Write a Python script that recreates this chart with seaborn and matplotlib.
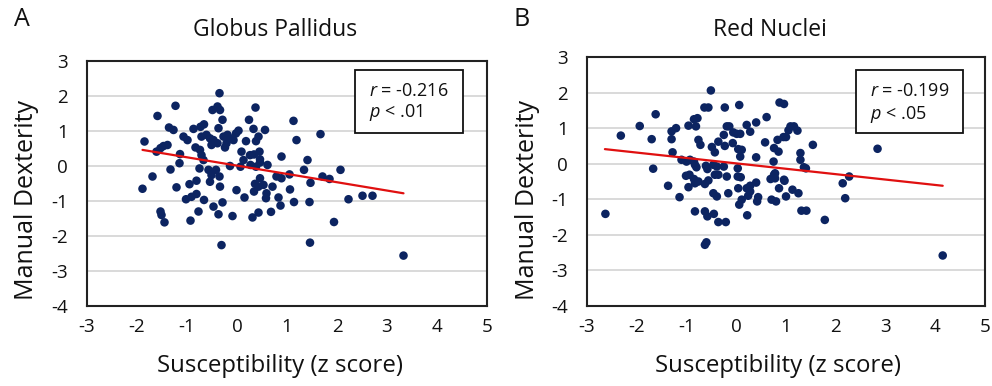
import numpy as np
import pandas as pd
import matplotlib
matplotlib.use('Agg')
import matplotlib.pyplot as plt
import seaborn as sns
from matplotlib.patches import Rectangle

# ---------------- data ----------------
gp_x = [-0.35, -1.23, -1.59, -0.49, -0.39, -0.34, 0.37, -0.29, 0.24, 1.13,
        -1.36, -1.27, -0.87, -0.73, -0.66, -0.37, 0.03, -0.02, 0.33, 0.56,
        0.43, 1.67, 1.19, -1.85, -1.07, -0.99, -0.71, -0.61, -0.54, -0.47,
        -0.27, -0.19, -0.14, -0.07, -0.21, 0.18, 0.38, -1.47, -1.39, -1.53,
        -0.83, -0.74, -0.51, -0.39, -0.24, 0.09, 0.26, 0.34, 0.45, -1.14,
        -1.61, -0.71, -0.67, 0.13, 0.46, 0.89, 1.41, -1.15, -0.14, 0.07,
        0.27, 0.38, 0.46, 0.61, -1.33, -0.75, -0.57, -0.42, 1.34, 2.07,
        -1.69, -0.51, -0.35, 0.79, 0.89, 1.05, 1.71, 1.85, -0.81, -0.54,
        0.46, 0.36, 0.43, 0.53, -1.89, -1.21, -0.95, -0.34, -0.01, 0.34,
        0.71, 1.06, 1.47, -0.81, -0.91, -1.02, -0.66, 0.15, 0.59, 0.58,
        0.83, 2.23, -1.53, -1.51, -1.45, -0.77, -0.93, -0.47, -0.29, -0.37,
        -0.09, 0.31, 0.43, 0.68, 0.87, 1.14, 1.45, 1.94, -0.31, 1.46,
        2.51, 2.71, 3.33]
gp_y = [2.08, 1.72, 1.43, 1.60, 1.70, 1.60, 1.67, 1.32, 1.32, 1.29,
        1.10, 1.03, 1.06, 1.12, 1.19, 1.08, 1.01, 0.93, 1.06, 1.03,
        0.84, 0.91, 0.74, 0.70, 0.84, 0.74, 0.84, 0.89, 0.79, 0.74,
        0.84, 0.89, 0.79, 0.74, 0.65, 0.71, 0.71, 0.57, 0.60, 0.51,
        0.53, 0.46, 0.60, 0.65, 0.53, 0.41, 0.31, 0.33, 0.41, 0.34,
        0.41, 0.31, 0.17, 0.17, 0.19, 0.27, 0.17, 0.08, 0.00, -0.02,
        0.03, -0.02, 0.10, 0.03, -0.10, -0.07, -0.11, -0.11, -0.11, -0.11,
        -0.30, -0.26, -0.30, -0.30, -0.35, -0.24, -0.30, -0.37, -0.42, -0.45,
        -0.35, -0.51, -0.59, -0.54, -0.65, -0.61, -0.52, -0.59, -0.69, -0.73,
        -0.59, -0.67, -0.48, -0.80, -0.88, -0.95, -0.97, -0.90, -0.78, -0.92,
        -0.90, -0.95, -1.30, -1.40, -1.61, -1.30, -1.56, -1.16, -1.04, -1.38,
        -1.43, -1.47, -1.33, -1.31, -1.13, -1.03, -1.03, -1.60, -2.26, -2.19,
        -0.85, -0.85, -2.56]
gp_line_x = [-1.89, 3.33]
gp_line_y = [0.46, -0.78]

rn_x = [-0.51, -0.64, -0.56, -0.23, 0.06, -1.62, -1.94, -2.32, -1.70, -1.30,
        -1.21, -1.30, -0.96, -0.85, -0.78, -0.81, -0.76, -0.72, -0.49, -0.43,
        -0.36, -0.25, -0.19, -0.14, -0.23, -0.06, 0.01, 0.08, -0.07, 0.04,
        0.11, 0.08, 0.21, 0.28, 0.40, 0.61, 0.58, 0.40, 0.76, 0.85,
        0.75, 0.83, 0.95, 1.00, 0.87, 0.96, 1.05, -1.28, -1.10, -1.00,
        -0.93, -0.85, -0.83, -0.80, -0.61, -0.58, -0.46, -0.39, -0.25, 0.03,
        -1.67, -1.01, -0.94, -0.85, -0.76, -0.83, -0.63, -0.56, -0.43, -0.36,
        -0.19, 0.03, 0.09, 0.28, 0.21, 0.40, 0.69, 0.76, 0.97, 0.86,
        -1.37, -0.96, -1.14, -0.46, -0.39, -0.16, 0.04, 0.28, 0.24, 0.11,
        0.06, 0.44, 0.42, 0.71, 0.80, 1.00, -0.83, -0.63, -0.58, -0.45,
        -0.36, -0.21, 0.22, -0.60, -0.63, -2.63, 1.09, 1.16, 1.23, 1.54,
        1.29, 1.29, 1.36, 1.40, 2.84, 0.78, 0.78, 0.96, 1.13, 1.25,
        2.27, 2.14, 2.19, 1.31, 1.41, 1.78, 4.15]
rn_y = [2.06, 1.58, 1.58, 1.58, 1.65, 1.39, 1.06, 0.79, 0.69, 0.91,
        1.00, 0.69, 1.07, 1.25, 1.28, 1.05, 0.67, 0.53, 0.47, 0.32,
        0.62, 0.81, 1.05, 1.05, 0.50, 0.88, 0.84, 0.84, 0.58, 0.41,
        0.39, 0.20, 1.09, 0.90, 1.16, 1.31, 0.60, 0.18, 0.44, 0.34,
        0.06, 0.67, 0.75, 0.75, 1.72, 1.68, 0.94, 0.32, 0.11, 0.06,
        0.11, 0.06, -0.03, -0.10, -0.06, -0.15, -0.03, -0.08, -0.08, -0.13,
        -0.14, -0.34, -0.31, -0.43, -0.50, -0.55, -0.57, -0.47, -0.31, -0.31,
        -0.36, -0.36, -0.38, -0.62, -0.69, -0.53, -0.43, -0.31, -0.48, -0.69,
        -0.62, -0.66, -0.94, -0.83, -0.92, -0.83, -0.69, -0.78, -0.90, -1.01,
        -1.15, -0.94, -1.06, -1.01, -1.06, -0.92, -1.34, -1.34, -1.48, -1.41,
        -1.64, -1.64, -1.45, -2.21, -2.28, -1.41, 1.05, 1.05, 0.93, 0.53,
        0.30, 0.11, -0.10, -0.13, 0.42, -0.27, -0.41, -0.45, -0.73, -0.83,
        -0.36, -0.55, -0.97, -1.32, -1.32, -1.58, -2.58]
rn_line_x = [-2.64, 4.15]
rn_line_y = [0.41, -0.62]

titles = ["Globus Pallidus", "Red Nuclei"]
letters = ["A", "B"]
r_texts = ["-0.216", "-0.199"]
p_texts = ["< .01", "< .05"]
x_ticks = [-3, -2, -1, 0, 1, 2, 3, 4, 5]
y_ticks = [-4, -3, -2, -1, 0, 1, 2, 3]
x_label = "Susceptibility (z score)"
y_label = "Manual Dexterity"

# ---------------- style ----------------
sns.set_style('white')
plt.rcParams['font.family'] = ['Open Sans', 'DejaVu Sans']
plt.rcParams['mathtext.fontset'] = 'custom'
plt.rcParams['mathtext.it'] = 'Open Sans:italic'
plt.rcParams['mathtext.rm'] = 'Open Sans'
plt.rcParams['axes.unicode_minus'] = False

DOT = '#0c2461'
LINE = '#e01010'
W, H = 992, 386

fig = plt.figure(figsize=(W / 100, H / 100), dpi=100)
ax1 = fig.add_axes([87 / W, 1 - 306 / H, 400 / W, 245 / H])
ax2 = fig.add_axes([587 / W, 1 - 306 / H, 398 / W, 249 / H])


def panel(ax, x, y, lx, ly, idx, box, txt_x, txt_y):
    df = pd.DataFrame({'x': x, 'y': y})
    ax.set_axisbelow(True)
    sns.scatterplot(data=df, x='x', y='y', ax=ax, color=DOT, s=38,
                    edgecolor='none', linewidth=0, zorder=3)
    sns.lineplot(x=lx, y=ly, ax=ax, color=LINE, lw=1.6, zorder=4)
    ax.set_xlim(x_ticks[0], x_ticks[-1])
    ax.set_ylim(y_ticks[0], y_ticks[-1])
    ax.set_xticks(x_ticks)
    ax.set_yticks(y_ticks)
    ax.yaxis.grid(True, color='#d9d9d9', lw=1.4)
    ax.xaxis.grid(False)
    for s in ax.spines.values():
        s.set_visible(True)
        s.set_color('#222222')
        s.set_linewidth(1.5)
    ax.tick_params(axis='y', length=0, labelsize=13.5, pad=14, colors='#111111')
    ax.tick_params(axis='x', length=0, labelsize=13.5, pad=9, colors='#111111')
    ax.set_xlabel('')
    ax.set_ylabel('')
    x0, y0, x1, y1 = box
    ax.add_patch(Rectangle((x0, y0), x1 - x0, y1 - y0, transform=ax.transAxes,
                           facecolor='white', edgecolor='#111111', lw=1.3,
                           zorder=6))
    ax.text(txt_x, txt_y[0], r"$\mathit{r}$ = " + r_texts[idx],
            transform=ax.transAxes, fontsize=13, va='center', ha='left',
            zorder=7, color='#111111')
    ax.text(txt_x, txt_y[1], r"$\mathit{p}$ " + p_texts[idx],
            transform=ax.transAxes, fontsize=13, va='center', ha='left',
            zorder=7, color='#111111')


panel(ax1, gp_x, gp_y, gp_line_x, gp_line_y, 0,
      (0.67, 0.706, 0.94, 0.963), 0.705, (0.879, 0.788))
panel(ax2, rn_x, rn_y, rn_line_x, rn_line_y, 1,
      (0.676, 0.695, 0.945, 0.948), 0.711, (0.865, 0.771))

# titles, labels and panel letters
for cx, t in zip([275, 770], titles):
    fig.text(cx / W, 1 - 30 / H, t, ha='center', va='center', fontsize=16.5,
             color='#111111')
for cx, l in zip([22, 522], letters):
    fig.text(cx / W, 1 - 20 / H, l, ha='center', va='center', fontsize=18,
             color='#111111')
for cx in [280, 778]:
    fig.text(cx / W, 1 - 366 / H, x_label, ha='center', va='center',
             fontsize=17.3, color='#111111')
for cx in [27, 527]:
    fig.text(cx / W, 1 - 200 / H, y_label, ha='center', va='center',
             rotation=90, fontsize=18, color='#111111')

fig.savefig('out.png', dpi=100, facecolor='white')
